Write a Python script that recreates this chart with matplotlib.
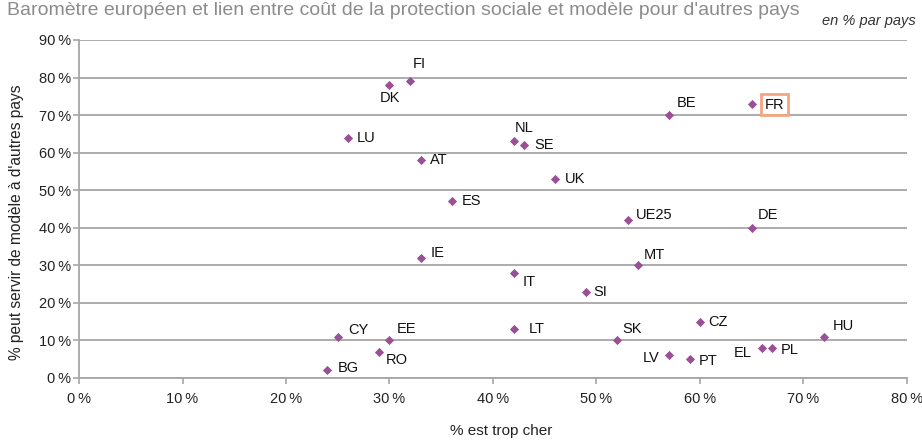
import matplotlib.pyplot as plt

plt.rcParams['font.family'] = ['Liberation Sans', 'DejaVu Sans']

# pays, % est trop cher, % peut servir de modèle
pays = ["FI", "DK", "LU", "NL", "SE", "AT", "UK", "ES", "IE", "IT", "SI", "LT",
        "BE", "FR", "UE25", "DE", "MT", "CY", "EE", "RO", "BG", "SK", "CZ", "LV",
        "PT", "EL", "PL", "HU"]
trop_cher = [32, 30, 26, 42, 43, 33, 46, 36, 33, 42, 49, 42,
             57, 65, 53, 65, 54, 25, 30, 29, 24, 52, 60, 57,
             59, 66, 67, 72]
modele = [79, 78, 64, 63, 62, 58, 53, 47, 32, 28, 23, 13,
          70, 73, 42, 40, 30, 11, 10, 7, 2, 10, 15, 6,
          5, 8, 8, 11]

# décalage des étiquettes (pixels) et alignement
decalage = {
    "FI": (3, 17, "left"), "DK": (0, -13, "center"), "LU": (9, 0, "left"),
    "NL": (1, 13, "left"), "SE": (10, 0, "left"), "AT": (9, 0, "left"),
    "UK": (10, 0, "left"), "ES": (10, 0, "left"), "IE": (10, 5, "left"),
    "IT": (9, -9, "left"), "SI": (7, 0, "left"), "LT": (15, 0, "left"),
    "BE": (8, 12, "left"), "FR": (13, -1, "left"), "UE25": (8, 5, "left"),
    "DE": (6, 13, "left"), "MT": (6, 10, "left"), "CY": (10, 7, "left"),
    "EE": (7, 11, "left"), "RO": (7, -8, "left"), "BG": (10, 2, "left"),
    "SK": (5, 11, "left"), "CZ": (8, 0, "left"), "LV": (-9, -3, "right"),
    "PT": (9, -2, "left"), "EL": (-10, -5, "right"), "PL": (8, -2, "left"),
    "HU": (9, 11, "left"),
}

gris = "#a6a6a6"
fig = plt.figure(figsize=(9.22, 4.41), dpi=100)
ax = fig.add_axes([0.0857, 0.1429, 0.898, 0.7664])

ax.scatter(trop_cher, modele, marker="D", s=22, color="#9b4f96", zorder=3,
           linewidths=0)

for p, x, y in zip(pays, trop_cher, modele):
    dx, dy, ha = decalage[p]
    t = ax.annotate(p, (x, y), xytext=(dx, dy), textcoords="offset pixels",
                    ha=ha, va="center", fontsize=10.5, color="#111111")
    if p == "FR":
        t.set_bbox(dict(boxstyle="square,pad=0.25", facecolor="none",
                        edgecolor="#f4a582", linewidth=2))

ax.set_xlim(0, 80)
ax.set_ylim(0, 90)
ax.set_xticks(range(0, 81, 10))
ax.set_yticks(range(0, 91, 10))
ax.set_xticklabels([f"{v}\u2009%" for v in range(0, 81, 10)])
ax.set_yticklabels([f"{v}\u2009%" for v in range(0, 91, 10)])
ax.tick_params(axis="both", colors=gris, labelcolor="#222222", labelsize=10.5,
               width=1.2)
ax.tick_params(axis="y", length=4, pad=2)
ax.tick_params(axis="x", length=4, pad=6)
ax.grid(axis="y", color=gris, linewidth=1.3)
ax.set_axisbelow(True)
for s in ["top", "right"]:
    ax.spines[s].set_visible(False)
for s in ["left", "bottom"]:
    ax.spines[s].set_color(gris)
    ax.spines[s].set_linewidth(1.3)

ax.set_xlabel("% est trop cher", fontsize=11, color="#222222")
ax.set_ylabel("% peut servir de modèle à d'autres pays", fontsize=11.2,
              color="#222222")
ax.xaxis.set_label_coords(0.51, -0.137)
ax.yaxis.set_label_coords(-0.067, 0.46)

fig.text(0.008, 0.966, "Baromètre européen et lien entre coût de la protection "
         "sociale et modèle pour d'autres pays", fontsize=14, color="#8c8c8c",
         va="baseline", ha="left")
fig.text(0.993, 0.952, "en % par pays", fontsize=10.5, style="italic",
         color="#333333", ha="right", va="center")

fig.savefig("out.png", dpi=100)
